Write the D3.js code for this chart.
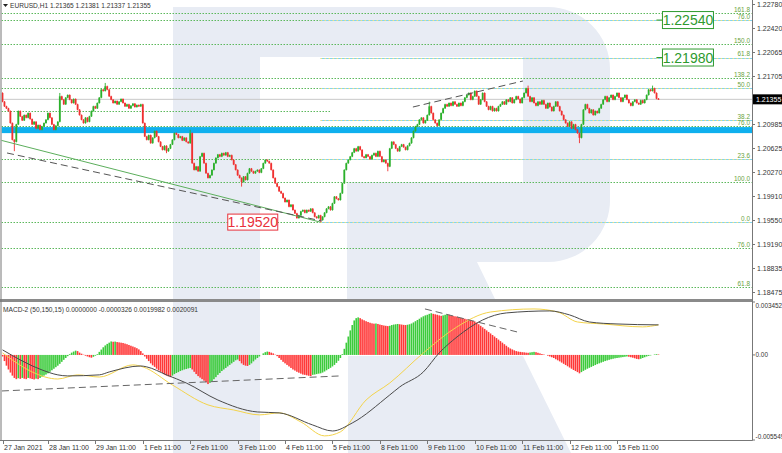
<!DOCTYPE html>
<html><head><meta charset="utf-8">
<script src="https://cdn.jsdelivr.net/npm/d3@7"></script>
<style>html,body{margin:0;padding:0;background:#fff;overflow:hidden}svg{display:block}text{font-family:'Liberation Sans',Arial,sans-serif}</style>
</head><body><svg id="c" width="782" height="453"></svg>
<script>
// ---------- DATA ----------
const symbolHeader = "EURUSD,H1  1.21365 1.21381 1.21337 1.21355";
const macdHeader = "MACD-2 (50,150,15) 0.0000000 -0.0000326 0.0019982 0.0020091";
const firstOpen = 1.2145;
const closes = [
1.2132,1.2125,1.2122,1.2118,1.2100,1.2075,1.2072,1.2098,1.2118,1.2110,
1.2104,1.2112,1.2108,1.2115,1.2106,1.2098,1.2102,1.2092,1.2097,1.2090,
1.2095,1.2100,1.2105,1.2115,1.2108,1.2098,1.2090,1.2096,1.2102,1.2140,
1.2135,1.2128,1.2138,1.2142,1.2135,1.2130,1.2136,1.2128,1.2120,1.2112,
1.2105,1.2100,1.2108,1.2102,1.2110,1.2118,1.2125,1.2122,1.2130,1.2138,
1.2150,1.2148,1.2155,1.2150,1.2140,1.2135,1.2130,1.2133,1.2128,1.2132,
1.2136,1.2130,1.2125,1.2128,1.2122,1.2126,1.2129,1.2124,1.2127,1.2125,
1.2128,1.2100,1.2080,1.2075,1.2082,1.2070,1.2078,1.2088,1.2080,1.2072,
1.2065,1.2060,1.2066,1.2058,1.2062,1.2068,1.2075,1.2085,1.2083,1.2078,
1.2080,1.2074,1.2078,1.2072,1.2070,1.2085,1.2040,1.2030,1.2035,1.2028,
1.2050,1.2055,1.2040,1.2025,1.2018,1.2022,1.2030,1.2040,1.2048,1.2053,
1.2050,1.2055,1.2052,1.2056,1.2050,1.2052,1.2045,1.2038,1.2030,1.2022,
1.2018,1.2012,1.2020,1.2015,1.2025,1.2032,1.2028,1.2025,1.2028,1.2030,
1.2026,1.2032,1.2040,1.2045,1.2043,1.2040,1.2030,1.2018,1.2010,1.2005,
1.1998,1.1995,1.1988,1.1982,1.1985,1.1975,1.1978,1.1970,1.1965,1.1958,
1.1962,1.1968,1.1970,1.1966,1.1970,1.1968,1.1972,1.1966,1.1960,1.1958,
1.1962,1.1955,1.1960,1.1966,1.1972,1.1975,1.1970,1.1980,1.1990,1.1987,
1.1985,1.1995,1.2010,1.2030,1.2040,1.2045,1.2050,1.2056,1.2062,1.2058,
1.2065,1.2060,1.2050,1.2048,1.2053,1.2050,1.2046,1.2052,1.2055,1.2050,
1.2058,1.2050,1.2042,1.2045,1.2040,1.2035,1.2062,1.2072,1.2068,1.2062,
1.2058,1.2065,1.2068,1.2064,1.2060,1.2066,1.2070,1.2078,1.2088,1.2095,
1.2098,1.2105,1.2108,1.2100,1.2104,1.2112,1.2125,1.2115,1.2105,1.2100,
1.2096,1.2105,1.2115,1.2122,1.2128,1.2125,1.2130,1.2126,1.2132,1.2128,
1.2125,1.2130,1.2126,1.2132,1.2138,1.2142,1.2145,1.2135,1.2140,1.2148,
1.2140,1.2128,1.2135,1.2145,1.2132,1.2125,1.2120,1.2125,1.2118,1.2122,
1.2118,1.2125,1.2128,1.2132,1.2128,1.2135,1.2132,1.2138,1.2130,1.2135,
1.2140,1.2136,1.2130,1.2138,1.2145,1.2152,1.2140,1.2132,1.2138,1.2130,
1.2126,1.2132,1.2128,1.2134,1.2128,1.2122,1.2130,1.2124,1.2118,1.2125,
1.2132,1.2125,1.2118,1.2112,1.2105,1.2100,1.2095,1.2102,1.2092,1.2098,
1.2090,1.2085,1.2078,1.2098,1.2120,1.2128,1.2122,1.2115,1.2120,1.2112,
1.2118,1.2115,1.2122,1.2128,1.2135,1.2140,1.2132,1.2138,1.2142,1.2135,
1.2140,1.2145,1.2138,1.2132,1.2138,1.2142,1.2135,1.2130,1.2126,1.2132,
1.2135,1.2130,1.2128,1.2134,1.2130,1.2135,1.2142,1.2150,1.2148,1.2152,
1.2145,1.21365,1.21355];
// long wicks: [bar, price]
const wickHighs = [[52,1.2160],[216,1.2132],[266,1.2156],[329,1.2156],[29,1.2145],[95,1.2090]];
const wickLows = [[6,1.2058],[121,1.2005],[161,1.1952],[195,1.2028],[292,1.2070],[83,1.2055]];
const wickDefault = 0.00009;

// MACD histogram in units of 1e-5
const macdHist = [
-10,-40,-70,-95,-115,-135,-150,-158,-152,-156,
-150,-155,-158,-150,-153,-157,-160,-155,-158,-150,
-142,-135,-128,-120,-110,-100,-90,-80,-70,-58,
-45,-32,-20,-8,5,15,22,28,25,15,
8,2,-5,-10,-15,-18,-12,-5,5,20,
35,50,62,72,80,88,86,87,84,82,
80,78,74,70,65,60,55,50,44,36,
25,10,-10,-25,-40,-55,-68,-78,-90,-100,
-110,-118,-128,-135,-140,-145,-135,-125,-118,-112,
-105,-100,-95,-92,-88,-85,-95,-110,-125,-138,
-148,-158,-168,-178,-190,-182,-170,-158,-145,-130,
-118,-105,-95,-85,-75,-65,-55,-45,-35,-30,
-40,-55,-65,-70,-72,-65,-55,-42,-30,-20,
-10,0,10,18,22,20,15,10,2,-8,
-20,-32,-45,-55,-65,-75,-85,-95,-102,-110,
-116,-122,-128,-130,-133,-136,-138,-130,-128,-125,
-122,-120,-115,-108,-100,-92,-84,-75,-65,-52,
-38,-20,5,40,80,120,160,195,225,240,
245,240,232,226,220,215,210,206,204,205,
202,198,195,192,190,188,190,195,198,200,
202,200,198,196,195,197,200,205,212,220,
228,236,245,252,258,262,268,272,268,265,
262,258,255,258,262,265,262,258,255,252,
250,246,242,240,236,232,230,226,222,218,
210,200,190,180,170,160,150,140,130,120,
110,100,90,80,70,60,50,42,36,30,
25,22,20,18,17,15,14,16,18,20,
18,14,10,6,3,0,-5,-10,-15,-20,
-28,-35,-42,-50,-58,-66,-74,-82,-90,-98,
-105,-112,-120,-112,-104,-97,-90,-84,-78,-72,
-66,-60,-55,-50,-45,-40,-36,-32,-28,-25,
-22,-20,-18,-16,-14,-12,-10,-12,-15,-18,
-22,-26,-28,-25,-20,-15,-10,-6,-3,0,
3,5,3];
// MACD main line (dark) and signal line (yellow): [bar, value 1e-5]
const macdLine = [[0,33],[20,-98],[28,-130],[33,-137],[49,-130],[54,-111],[70,-72],[73,-78],[83,-130],[93,-183],[109,-294],[129,-372],[140,-378],[157,-457],[167,-496],[177,-444],[196,-261],[201,-209],[213,-111],[221,13],[230,117],[243,228],[255,274],[277,287],[287,261],[297,215],[311,202],[332,196]];
const signalLine = [[0,13],[5,-33],[15,-111],[28,-157],[38,-130],[49,-144],[66,-65],[71,-78],[86,-196],[104,-326],[117,-359],[130,-391],[140,-378],[151,-437],[163,-528],[171,-502],[184,-294],[196,-183],[213,13],[230,183],[247,280],[269,300],[281,280],[291,215],[304,202],[324,183],[332,196]];

const priceTicks = [1.22780,1.22420,1.22065,1.21705,1.20985,1.20625,1.20270,1.19910,1.19550,1.19190,1.18835,1.18475];
const currentPrice = 1.21355;
const macdTicks = [[0.0034528,"0.0034528"],[0,"0.00"],[-0.005549,"-0.005549"]];
const timeTickBars = [0,23,47,71,95,119,143,167,191,215,239,263,287,311];
const timeTickLabels = ["27 Jan 2021","28 Jan 11:00","29 Jan 11:00","1 Feb 11:00","2 Feb 11:00","3 Feb 11:00","4 Feb 11:00","5 Feb 11:00","8 Feb 11:00","9 Feb 11:00","10 Feb 11:00","11 Feb 11:00","12 Feb 11:00","15 Feb 11:00"];

// Fibonacci levels
const greenFibPrices = [1.22645,1.22540,1.22182,1.21674,1.21524,1.20956,1.20463,1.20119,1.19520,1.19133,1.18550];
const greenFibLabels = ["161.8","","150.0","138.2","","76.0","","100.0","","76.0","61.8"];
const shortFibPrice = 1.21181, shortFibEndBar = 166;
const blueFibPrices = [1.19520,1.20463,1.21046,1.21524,1.21980,1.22540];
const blueFibLabels = ["0.0","23.6","38.2","50.0","61.8","76.0"];
const blueFibStartBar = 161;
const zoneTop = 1.20940, zoneBottom = 1.20850;

// trend lines [bar, price]
const greenTrend = [[-1.3,1.20747],[160.7,1.19521]];
const dashTrendLow = [[2.3,1.20553],[161.7,1.19536]];
const dashTrendHigh = [[207.7,1.21240],[263.4,1.21629]];
const macdDashLow = [[-0.3,-0.00235],[170.8,-0.00137]];
const macdDashHigh = [[213.8,0.0030],[260.4,0.0015]];

// price labels
const targetLabels = [{bar:334,price:1.22540,text:"1.22540",color:"#2e9a2e"},{bar:334,price:1.21980,text:"1.21980",color:"#2e9a2e"}];
const lowLabel = {bar:114,price:1.19520,text:"1.19520",color:"#e8303a"};

// ---------- LAYOUT ----------
const svg = d3.select('#c');
const L = 1.5, R = 752;
const mainBot = 299, macdTop = 302, macdBot = 440;
const x = d3.scaleLinear().domain([0,332]).range([2.5,658.5]);
const y = d3.scaleLinear().domain([1.22780-295/6690, 1.22780+4/6690]).range([299,0]);
const ym = d3.scaleLinear().domain([-0.005549,0.0034528]).range([macdBot,macdTop]);
const u5 = v => v/1e5;

// watermark (RoboForex R)
const wm = svg.append('g').attr('fill','#e8ecf4');
wm.append('rect').attr('x',173).attr('y',7).attr('width',87).attr('height',446);
wm.append('path').attr('d','M260,7 H548 A62,62 0 0 1 610,69 V198 A62,62 0 0 1 548,262 H477 L495,299 H347 V182 H523 V57 H260 Z');
wm.append('path').attr('d','M348,356 H523 L571,453 H348 Z');

const defs = svg.append('defs');
defs.append('clipPath').attr('id','cm').append('rect').attr('x',L).attr('y',0).attr('width',R-L).attr('height',mainBot);
defs.append('clipPath').attr('id','cd').append('rect').attr('x',L).attr('y',macdTop).attr('width',R-L).attr('height',macdBot-macdTop);

const gm = svg.append('g').attr('clip-path','url(#cm)');

// zone
gm.append('rect').attr('x',L).attr('width',R-L).attr('y',y(zoneTop)).attr('height',y(zoneBottom)-y(zoneTop)).attr('fill','#0fb0ee');

// green fib lines
gm.selectAll('line.gf').data(greenFibPrices).join('line').attr('class','gf')
  .attr('x1',L).attr('x2',R).attr('y1',d=>Math.round(y(d))+0.5).attr('y2',d=>Math.round(y(d))+0.5)
  .attr('stroke','#5cb85c').attr('stroke-width',1).attr('stroke-dasharray','1.5,1.5');
gm.append('line').attr('x1',L).attr('x2',x(shortFibEndBar)).attr('y1',Math.round(y(shortFibPrice))+0.5).attr('y2',Math.round(y(shortFibPrice))+0.5)
  .attr('stroke','#5cb85c').attr('stroke-dasharray','1.5,1.5');
// blue fib lines
const bx0 = x(blueFibStartBar);
gm.selectAll('line.bf').data(blueFibPrices).join('line').attr('class','bf')
  .attr('x1',bx0).attr('x2',R).attr('y1',d=>Math.round(y(d))+0.5).attr('y2',d=>Math.round(y(d))+0.5)
  .attr('stroke','#7fd3f2').attr('stroke-width',1);
gm.selectAll('line.bf2').data(blueFibPrices).join('line').attr('class','bf2')
  .attr('x1',bx0).attr('x2',R).attr('y1',d=>Math.round(y(d))+0.5).attr('y2',d=>Math.round(y(d))+0.5)
  .attr('stroke','#f2e27a').attr('stroke-width',1).attr('stroke-dasharray','1.5,2.5');

// current price line
gm.append('line').attr('x1',L).attr('x2',R).attr('y1',y(currentPrice)).attr('y2',y(currentPrice)).attr('stroke','#c8c8c8').attr('stroke-width',1);

// fib labels
const fibLab = [];
greenFibPrices.forEach((p,i)=>{ if(greenFibLabels[i]) fibLab.push([p,greenFibLabels[i]]); });
blueFibPrices.forEach((p,i)=>fibLab.push([p,blueFibLabels[i]]));
gm.selectAll('text.fl').data(fibLab).join('text').attr('class','fl')
  .attr('x',750).attr('y',d=>y(d[0])-1.2).attr('text-anchor','end')
  .attr('font-size',6.4).attr('fill','#6aa33e').text(d=>d[1]);

// candles
const candles = closes.map((c,i)=>{
  const o = i===0 ? firstOpen : closes[i-1];
  let h = Math.max(o,c)+wickDefault, l = Math.min(o,c)-wickDefault;
  wickHighs.forEach(w=>{ if(w[0]===i) h=Math.max(h,w[1]); });
  wickLows.forEach(w=>{ if(w[0]===i) l=Math.min(l,w[1]); });
  return {i,o,c,h,l};
});
const cg = gm.append('g');
cg.selectAll('line.w').data(candles).join('line').attr('class','w')
  .attr('x1',d=>x(d.i)).attr('x2',d=>x(d.i)).attr('y1',d=>y(d.h)).attr('y2',d=>y(d.l))
  .attr('stroke',d=>d.c>=d.o?'#2bb02b':'#f03030').attr('stroke-width',0.9);
cg.selectAll('rect.b').data(candles).join('rect').attr('class','b')
  .attr('x',d=>x(d.i)-0.9).attr('width',1.8)
  .attr('y',d=>y(Math.max(d.o,d.c))).attr('height',d=>Math.max(1,Math.abs(y(d.o)-y(d.c))))
  .attr('fill',d=>d.c>=d.o?'#2bb02b':'#f03030');

// trend lines
const tl = d3.line().x(d=>x(d[0])).y(d=>y(d[1]));
gm.append('path').attr('d',tl(greenTrend)).attr('stroke','#5cae5c').attr('fill','none').attr('stroke-width',1);
gm.append('path').attr('d',tl(dashTrendLow)).attr('stroke','#555').attr('fill','none').attr('stroke-width',1).attr('stroke-dasharray','7,4');
gm.append('path').attr('d',tl(dashTrendHigh)).attr('stroke','#555').attr('fill','none').attr('stroke-width',1).attr('stroke-dasharray','7,4');

// price labels boxes
function box(g,lab,w,h,stub){
  const cx = x(lab.bar), cy = y(lab.price);
  if(stub) g.append('line').attr('x1',cx-6).attr('x2',cx).attr('y1',cy).attr('y2',cy).attr('stroke',lab.color);
  g.append('rect').attr('x',cx).attr('y',cy-h/2).attr('width',w).attr('height',h).attr('fill','#fff').attr('stroke',lab.color).attr('stroke-width',1);
  g.append('text').attr('x',cx+w/2).attr('y',cy+5).attr('text-anchor','middle').attr('font-size',14).attr('fill',lab.color).text(lab.text);
}
targetLabels.forEach(l=>box(svg,l,51,17,true));
box(svg,{...lowLabel},50,16,false);

// ---------- MACD ----------
const gd = svg.append('g').attr('clip-path','url(#cd)');
const hist = macdHist.map((v,i)=>({i,v:u5(v),up: i===0 ? false : v>macdHist[i-1]}));
gd.selectAll('rect.h').data(hist).join('rect').attr('class','h')
  .attr('x',d=>x(d.i)-0.8).attr('width',1.6)
  .attr('y',d=>Math.min(ym(d.v),ym(0))).attr('height',d=>Math.abs(ym(d.v)-ym(0)))
  .attr('fill',d=>d.up?'#3ccb3c':'#ff3838');
const ml = d3.line().x(d=>x(d[0])).y(d=>ym(u5(d[1]))).curve(d3.curveMonotoneX);
gd.append('path').attr('d',ml(signalLine)).attr('stroke','#f3d34a').attr('fill','none').attr('stroke-width',1);
gd.append('path').attr('d',ml(macdLine)).attr('stroke','#4a4a4a').attr('fill','none').attr('stroke-width',1);
const dl = d3.line().x(d=>x(d[0])).y(d=>ym(d[1]));
gd.append('path').attr('d',dl(macdDashLow)).attr('stroke','#666').attr('fill','none').attr('stroke-dasharray','7,4');
gd.append('path').attr('d',dl(macdDashHigh)).attr('stroke','#666').attr('fill','none').attr('stroke-dasharray','7,4');

// ---------- FRAMES & AXES ----------
svg.append('rect').attr('x',0).attr('y',mainBot).attr('width',R+0.5).attr('height',3).attr('fill','#8a8a8a');
svg.append('line').attr('x1',1).attr('x2',1).attr('y1',0).attr('y2',macdBot).attr('stroke','#777');
svg.append('line').attr('x1',R+0.5).attr('x2',R+0.5).attr('y1',0).attr('y2',macdBot+0.5).attr('stroke','#777');
svg.append('line').attr('x1',0).attr('x2',R+0.5).attr('y1',macdBot+0.5).attr('y2',macdBot+0.5).attr('stroke','#777');

const pa = svg.append('g').attr('font-size',7).attr('fill','#333');
priceTicks.forEach(p=>{
  const yy = Math.round(y(p))+0.5;
  pa.append('line').attr('x1',R).attr('x2',R+3).attr('y1',yy).attr('y2',yy).attr('stroke','#777');
  pa.append('text').attr('x',R+5).attr('y',yy+2.5).text(d3.format('.5f')(p));
});
const cpy = y(currentPrice);
svg.append('rect').attr('x',R+1).attr('y',cpy-5).attr('width',30).attr('height',10).attr('fill','#000');
svg.append('text').attr('x',R+4).attr('y',cpy+2.5).attr('font-size',7).attr('fill','#fff').text(d3.format('.5f')(currentPrice));

macdTicks.forEach((t,k)=>{
  const yy = ym(t[0]);
  const ty = k===0 ? yy+6 : (k===2 ? yy-1 : yy+2.5);
  svg.append('line').attr('x1',R).attr('x2',R+3).attr('y1',yy).attr('y2',yy).attr('stroke','#777');
  svg.append('text').attr('x',R+3.5).attr('y',ty).attr('font-size',6.4).attr('fill','#333').text(t[1]);
});

timeTickBars.forEach((b,k)=>{
  const xx = Math.round(x(b))+0.5;
  svg.append('line').attr('x1',xx).attr('x2',xx).attr('y1',macdBot).attr('y2',macdBot+4).attr('stroke','#777');
  svg.append('text').attr('x',xx+0.5).attr('y',450).attr('font-size',7).attr('fill','#333').text(timeTickLabels[k]);
});

// headers
svg.append('path').attr('d','M3,4 L8,4 L5.5,7 Z').attr('fill','#222');
svg.append('text').attr('x',10).attr('y',8).attr('font-size',6.6).attr('fill','#333').text(symbolHeader);
svg.append('text').attr('x',3).attr('y',312).attr('font-size',6.6).attr('fill','#333').text(macdHeader);
</script></body></html>
